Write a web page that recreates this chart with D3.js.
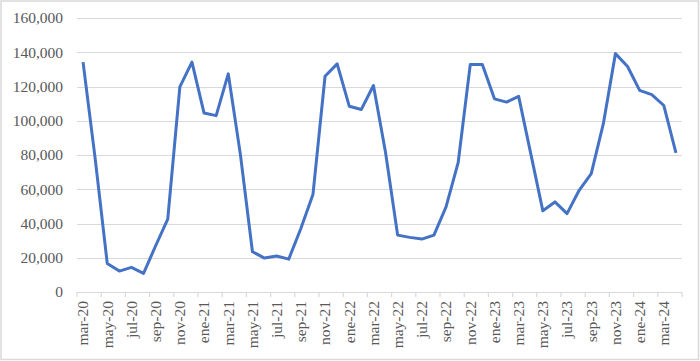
<!DOCTYPE html>
<html>
<head>
<meta charset="utf-8">
<script src="https://cdn.jsdelivr.net/npm/d3@7"></script>
<style>
  body { margin: 0; background: #fff; }
  text { font-family: "Liberation Serif", "Times New Roman", serif; fill: #595959; }
</style>
</head>
<body>
<div id="chart"></div>
<script>
// monthly values, mar-20 .. apr-24
var months = ["mar-20","abr-20","may-20","jun-20","jul-20","ago-20","sep-20","oct-20","nov-20","dic-20",
              "ene-21","feb-21","mar-21","abr-21","may-21","jun-21","jul-21","ago-21","sep-21","oct-21","nov-21","dic-21",
              "ene-22","feb-22","mar-22","abr-22","may-22","jun-22","jul-22","ago-22","sep-22","oct-22","nov-22","dic-22",
              "ene-23","feb-23","mar-23","abr-23","may-23","jun-23","jul-23","ago-23","sep-23","oct-23","nov-23","dic-23",
              "ene-24","feb-24","mar-24","abr-24"];
var values = [134200, 78000, 16700, 12200, 14400, 10900, 27000, 42500, 119800, 134200,
              104500, 103000, 127400, 80500, 23500, 19800, 21000, 19200, 37100, 56900, 126000, 133200,
              108500, 106600, 120600, 81500, 33200, 31900, 30900, 33200, 49700, 75500, 132800, 132800,
              112800, 110900, 114200, 80800, 47400, 52600, 45800, 59400, 69100, 98300, 139200, 131700,
              117700, 115300, 108900, 81200];
var yTicks = [0, 20000, 40000, 60000, 80000, 100000, 120000, 140000, 160000];

var width = 700, height = 361,
    plotLeft = 77, plotRight = 682, plotTop = 18, plotBottom = 292;

var svg = d3.select("#chart").append("svg")
  .attr("width", width)
  .attr("height", height);

// outer frame
svg.append("rect")
  .attr("x", 1).attr("y", 1)
  .attr("width", width - 2.5).attr("height", height - 2.5)
  .attr("fill", "none")
  .attr("stroke", "#d9d9d9")
  .attr("stroke-width", 1.5);

var x = d3.scaleBand().domain(months).range([plotLeft, plotRight]);
var y = d3.scaleLinear().domain([0, 160000]).range([plotBottom, plotTop]);

// gridlines
svg.append("g")
  .selectAll("line")
  .data(yTicks.slice(1))
  .enter()
  .append("line")
  .attr("x1", plotLeft).attr("x2", plotRight)
  .attr("y1", function(d) { return Math.round(y(d)) + 0.5; })
  .attr("y2", function(d) { return Math.round(y(d)) + 0.5; })
  .attr("stroke", "#d9d9d9")
  .attr("stroke-width", 1.2);

// y labels
svg.append("g")
  .selectAll("text")
  .data(yTicks)
  .enter()
  .append("text")
  .attr("x", 63)
  .attr("y", function(d) { return y(d); })
  .attr("dy", "0.35em")
  .attr("text-anchor", "end")
  .attr("font-size", "15.5px")
  .text(function(d) { return d3.format(",")(d); });

// x axis line and ticks every two months
svg.append("line")
  .attr("x1", plotLeft).attr("x2", plotRight)
  .attr("y1", plotBottom + 0.5).attr("y2", plotBottom + 0.5)
  .attr("stroke", "#d9d9d9").attr("stroke-width", 1.2);

var tickPos = months.filter(function(d, i) { return i % 2 === 0; });
svg.append("g")
  .selectAll("line")
  .data(tickPos)
  .enter()
  .append("line")
  .attr("x1", function(d) { return x(d); })
  .attr("x2", function(d) { return x(d); })
  .attr("y1", plotBottom).attr("y2", plotBottom + 5)
  .attr("stroke", "#d9d9d9").attr("stroke-width", 1.2);
svg.append("line")
  .attr("x1", plotRight).attr("x2", plotRight)
  .attr("y1", plotBottom).attr("y2", plotBottom + 5)
  .attr("stroke", "#d9d9d9").attr("stroke-width", 1.2);

// x labels (rotated)
svg.append("g")
  .selectAll("text")
  .data(tickPos)
  .enter()
  .append("text")
  .attr("transform", function(d) {
    return "translate(" + (x(d) + x.bandwidth() / 2) + "," + (plotBottom + 9) + ") rotate(-90)";
  })
  .attr("dy", "0.35em")
  .attr("text-anchor", "end")
  .attr("font-size", "15.5px")
  .text(function(d) { return d; });

// the line
var line = d3.line()
  .x(function(d, i) { return x(months[i]) + x.bandwidth() / 2; })
  .y(function(d) { return y(d); });

svg.append("path")
  .datum(values)
  .attr("d", line)
  .attr("fill", "none")
  .attr("stroke", "#4472c4")
  .attr("stroke-width", 3)
  .attr("stroke-linejoin", "round");
</script>
</body>
</html>
